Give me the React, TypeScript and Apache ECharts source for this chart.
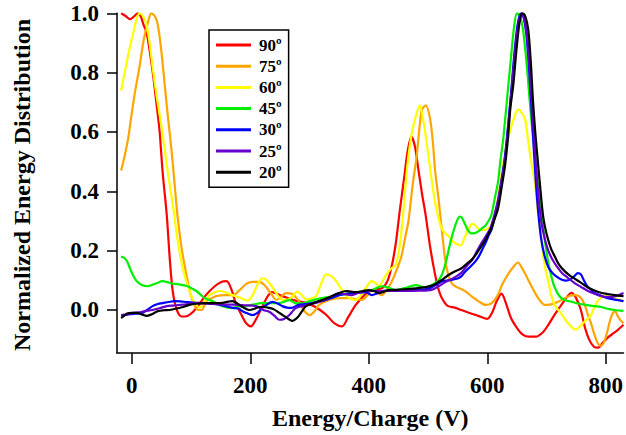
import React, { useEffect, useRef } from "react";
import * as echarts from "echarts";

const seriesNames = ["90º", "75º", "60º", "45º", "30º", "25º", "20º"];
const seriesColors = ["#ff0000", "#ffa500", "#ffff00", "#00ee00", "#0000ff", "#6600cc", "#000000"];
const xTicks = [0, 200, 400, 600, 800];
const yTicks = [0, 0.2, 0.4, 0.6, 0.8, 1.0];

const red90 = [
  [-18, 1.0], [-10, 0.99], [-3, 0.98], [4, 0.99], [10, 1.0], [15, 0.99], [20, 0.96], [25, 0.935], [34, 0.82], [42, 0.69], [47, 0.6],
  [52, 0.465], [59, 0.32], [64, 0.175], [69, 0.064], [76, 0.0], [84, -0.022], [94, -0.02], [104, -0.005], [114, 0.02],
  [125, 0.05], [140, 0.08], [152, 0.095], [160, 0.097], [168, 0.07], [176, 0.02], [186, -0.02], [193, -0.045], [201, -0.055],
  [210, -0.03], [220, 0.01], [229, 0.045], [237, 0.06], [250, 0.05], [266, 0.038], [280, 0.03], [294, 0.024], [310, 0.01],
  [328, -0.016], [342, -0.045], [355, -0.055], [365, -0.025], [378, 0.017], [390, 0.045], [400, 0.063], [412, 0.07],
  [422, 0.073], [432, 0.1], [440, 0.16], [446, 0.23], [452, 0.33], [460, 0.45], [466, 0.54], [472, 0.584], [478, 0.55],
  [484, 0.47], [490, 0.39], [496, 0.32], [503, 0.22], [509, 0.15], [515, 0.09], [521, 0.05], [528, 0.025], [534, 0.013],
  [545, 0.008], [556, 0.0], [570, -0.01], [585, -0.02], [600, -0.03], [608, -0.01], [616, 0.03], [624, 0.055], [632, 0.02],
  [640, -0.027], [650, -0.06], [660, -0.083], [670, -0.09], [682, -0.09], [694, -0.075], [703, -0.05], [714, -0.015],
  [725, 0.017], [735, 0.045], [742, 0.058], [750, 0.04], [758, 0.0], [765, -0.06], [772, -0.1], [780, -0.124], [787, -0.127],
  [795, -0.11], [803, -0.094], [812, -0.08], [820, -0.068], [830, -0.05]
];

const orange75 = [
  [-18, 0.47], [-12, 0.52], [-6, 0.58], [-1, 0.65], [5, 0.73], [13, 0.82], [20, 0.91], [26, 0.96], [33, 1.0], [39, 0.99],
  [44, 0.96], [50, 0.87], [55, 0.77], [61, 0.65], [67, 0.54], [72, 0.43], [77, 0.32], [84, 0.21], [92, 0.12], [99, 0.055],
  [106, 0.015], [112, 0.0], [118, 0.0], [126, 0.03], [135, 0.04], [143, 0.047], [158, 0.05], [170, 0.05], [182, 0.067],
  [193, 0.088], [204, 0.095], [215, 0.095], [225, 0.082], [235, 0.055], [244, 0.034], [252, 0.045], [260, 0.057],
  [270, 0.055], [280, 0.035], [290, 0.0], [300, -0.017], [308, -0.005], [316, 0.017], [333, 0.034], [350, 0.04],
  [366, 0.04], [388, 0.034], [398, 0.05], [405, 0.067], [414, 0.06], [422, 0.05], [430, 0.068], [436, 0.085], [442, 0.11],
  [448, 0.14], [455, 0.18], [462, 0.25], [467, 0.3], [474, 0.42], [481, 0.52], [489, 0.67], [496, 0.69], [503, 0.65],
  [508, 0.57], [512, 0.47], [518, 0.37], [523, 0.275], [529, 0.17], [534, 0.12], [540, 0.09], [546, 0.08], [557, 0.07],
  [565, 0.06], [573, 0.047], [585, 0.03], [597, 0.017], [607, 0.022], [618, 0.05], [625, 0.085], [635, 0.12], [644, 0.145],
  [652, 0.16], [659, 0.14], [666, 0.114], [676, 0.075], [686, 0.04], [697, 0.017], [705, 0.018], [714, 0.023], [722, 0.03],
  [731, 0.04], [740, 0.048], [748, 0.05], [756, 0.045], [764, 0.02], [770, -0.017], [776, -0.05], [781, -0.084],
  [786, -0.11], [790, -0.12], [794, -0.118], [798, -0.104], [803, -0.07], [807, -0.037], [812, -0.01], [816, -0.005],
  [820, -0.02], [825, -0.035], [830, -0.044]
];

const yellow60 = [
  [-18, 0.74], [-12, 0.8], [-5, 0.87], [2, 0.93], [8, 0.98], [13, 1.0], [19, 0.99], [25, 0.96], [30, 0.9], [35, 0.82],
  [42, 0.72], [50, 0.62], [57, 0.52], [64, 0.42], [71, 0.33], [77, 0.24], [85, 0.15], [94, 0.084], [102, 0.04], [109, 0.017],
  [114, 0.008], [122, 0.025], [131, 0.05], [140, 0.06], [148, 0.064], [158, 0.06], [170, 0.05], [184, 0.04], [195, 0.032],
  [204, 0.05], [212, 0.085], [220, 0.107], [228, 0.1], [237, 0.078], [246, 0.05], [254, 0.034], [263, 0.035], [271, 0.045],
  [279, 0.062], [287, 0.05], [294, 0.036], [302, 0.038], [311, 0.047], [320, 0.09], [328, 0.12], [336, 0.115], [344, 0.1],
  [352, 0.075], [361, 0.05], [370, 0.038], [378, 0.034], [387, 0.05], [395, 0.074], [405, 0.097], [412, 0.09], [417, 0.08],
  [424, 0.1], [430, 0.12], [438, 0.14], [445, 0.15], [451, 0.2], [457, 0.3], [462, 0.42], [467, 0.52], [473, 0.6],
  [479, 0.65], [486, 0.69], [492, 0.64], [498, 0.56], [504, 0.47], [509, 0.4], [514, 0.34], [519, 0.3], [523, 0.275],
  [528, 0.26], [534, 0.25], [540, 0.235], [546, 0.225], [555, 0.218], [563, 0.25], [570, 0.28], [576, 0.29], [582, 0.28],
  [588, 0.27], [596, 0.27], [602, 0.275], [608, 0.29], [613, 0.32], [620, 0.4], [626, 0.48], [631, 0.54], [638, 0.6],
  [644, 0.64], [652, 0.675], [658, 0.665], [664, 0.64], [669, 0.57], [674, 0.5], [681, 0.42], [686, 0.32], [691, 0.24],
  [697, 0.15], [703, 0.097], [708, 0.05], [714, 0.017], [724, -0.01], [736, -0.044], [744, -0.06], [750, -0.066],
  [757, -0.055], [765, -0.037], [775, -0.017], [781, 0.01], [787, 0.032], [798, 0.047], [806, 0.046], [815, 0.04],
  [822, 0.035], [830, 0.03]
];

const green45 = [
  [-18, 0.18], [-13, 0.176], [-8, 0.164], [-3, 0.14], [2, 0.117], [8, 0.098], [17, 0.084], [27, 0.08], [35, 0.085],
  [42, 0.09], [52, 0.097], [60, 0.094], [68, 0.089], [77, 0.087], [86, 0.084], [94, 0.08], [102, 0.072], [109, 0.064],
  [116, 0.052], [123, 0.04], [136, 0.03], [153, 0.013], [170, 0.007], [182, 0.012], [193, 0.013], [204, 0.018],
  [220, 0.023], [232, 0.023], [249, 0.023], [260, 0.03], [266, 0.034], [277, 0.022], [288, 0.022], [300, 0.03],
  [320, 0.04], [350, 0.05], [380, 0.06], [405, 0.067], [422, 0.08], [434, 0.075], [445, 0.067], [462, 0.075],
  [479, 0.084], [496, 0.076], [506, 0.084], [515, 0.095], [523, 0.117], [530, 0.16], [538, 0.23], [546, 0.285],
  [551, 0.31], [555, 0.315], [560, 0.3], [567, 0.27], [573, 0.258], [580, 0.26], [585, 0.265], [591, 0.275], [597, 0.285],
  [602, 0.3], [607, 0.32], [612, 0.37], [618, 0.43], [622, 0.5], [627, 0.577], [631, 0.66], [635, 0.745], [640, 0.85],
  [645, 0.95], [650, 1.0], [655, 0.99], [660, 0.95], [665, 0.86], [669, 0.77], [674, 0.65], [678, 0.57], [682, 0.49],
  [687, 0.4], [691, 0.33], [695, 0.27], [699, 0.21], [703, 0.16], [708, 0.115], [713, 0.08], [719, 0.055], [725, 0.04],
  [733, 0.032], [742, 0.028], [753, 0.022], [767, 0.017], [781, 0.013], [792, 0.01], [803, 0.004], [815, 0.0],
  [830, -0.003]
];

const blue30 = [
  [-18, -0.017], [-8, -0.016], [2, -0.013], [10, -0.012], [18, -0.01], [26, 0.0], [35, 0.013], [44, 0.02], [52, 0.023],
  [62, 0.027], [72, 0.03], [82, 0.029], [92, 0.027], [103, 0.025], [114, 0.024], [128, 0.022], [143, 0.02], [157, 0.014],
  [170, 0.007], [180, 0.005], [187, -0.004], [196, -0.012], [204, -0.017], [212, -0.01], [220, 0.007], [228, 0.018],
  [237, 0.027], [246, 0.022], [254, 0.013], [262, 0.008], [269, 0.007], [276, 0.012], [282, 0.017], [293, 0.02],
  [304, 0.023], [316, 0.028], [328, 0.034], [340, 0.042], [350, 0.05], [364, 0.055], [378, 0.057], [395, 0.06],
  [405, 0.05], [414, 0.056], [422, 0.064], [434, 0.066], [445, 0.067], [460, 0.067], [472, 0.067], [484, 0.068],
  [496, 0.07], [506, 0.076], [518, 0.09], [526, 0.098], [534, 0.1], [543, 0.103], [551, 0.107], [557, 0.115], [563, 0.13],
  [571, 0.145], [580, 0.164], [587, 0.185], [593, 0.21], [598, 0.23], [602, 0.25], [607, 0.27], [612, 0.31], [618, 0.36],
  [624, 0.43], [630, 0.52], [636, 0.64], [641, 0.75], [646, 0.87], [651, 0.96], [655, 0.995], [658, 1.0], [662, 0.98],
  [666, 0.93], [670, 0.83], [674, 0.7], [678, 0.56], [682, 0.43], [686, 0.33], [691, 0.24], [697, 0.18], [703, 0.145],
  [710, 0.125], [719, 0.11], [726, 0.102], [733, 0.099], [741, 0.104], [747, 0.114], [753, 0.124], [758, 0.12],
  [763, 0.1], [768, 0.082], [775, 0.068], [781, 0.057], [792, 0.048], [803, 0.04], [815, 0.035], [830, 0.03]
];

const purple25 = [
  [-18, -0.017], [-8, -0.015], [2, -0.01], [12, -0.008], [22, -0.004], [35, 0.0], [47, 0.006], [59, 0.013], [70, 0.015],
  [81, 0.017], [95, 0.02], [109, 0.023], [125, 0.022], [143, 0.02], [158, 0.018], [173, 0.018], [190, 0.016],
  [210, 0.013], [222, 0.0], [232, -0.006], [241, -0.02], [249, -0.033], [257, -0.03], [266, -0.017], [272, -0.003],
  [277, 0.007], [288, 0.013], [299, 0.018], [310, 0.024], [321, 0.03], [335, 0.043], [350, 0.057], [360, 0.053],
  [371, 0.05], [383, 0.058], [395, 0.064], [417, 0.064], [439, 0.064], [462, 0.064], [484, 0.065], [506, 0.068],
  [518, 0.08], [530, 0.095], [545, 0.11], [556, 0.125], [566, 0.15], [575, 0.17], [583, 0.2], [590, 0.225], [598, 0.25],
  [605, 0.275], [612, 0.32], [618, 0.37], [624, 0.44], [630, 0.51], [635, 0.61], [640, 0.72], [645, 0.83], [650, 0.93],
  [654, 0.98], [658, 1.0], [662, 0.985], [666, 0.94], [670, 0.86], [674, 0.74], [678, 0.61], [682, 0.49], [686, 0.39],
  [691, 0.3], [697, 0.24], [703, 0.2], [710, 0.17], [718, 0.145], [726, 0.125], [735, 0.11], [748, 0.09], [758, 0.078],
  [770, 0.064], [781, 0.055], [792, 0.047], [803, 0.044], [815, 0.046], [822, 0.05], [830, 0.057]
];

const black20 = [
  [-18, -0.027], [-13, -0.02], [-8, -0.012], [0, -0.01], [8, -0.01], [17, -0.015], [25, -0.02], [33, -0.015],
  [44, -0.004], [54, -0.001], [64, 0.0], [76, 0.005], [86, 0.01], [97, 0.017], [108, 0.021], [119, 0.023], [136, 0.023],
  [153, 0.024], [163, 0.028], [170, 0.03], [178, 0.022], [187, 0.01], [198, 0.0], [207, 0.004], [215, 0.01], [223, 0.01],
  [232, 0.007], [240, 0.002], [249, -0.01], [260, -0.024], [266, -0.032], [271, -0.037], [277, -0.03], [282, -0.02],
  [288, -0.002], [294, 0.013], [305, 0.022], [316, 0.03], [327, 0.038], [338, 0.047], [350, 0.057], [361, 0.064],
  [370, 0.062], [378, 0.06], [390, 0.064], [400, 0.067], [410, 0.063], [417, 0.057], [426, 0.062], [434, 0.067],
  [448, 0.068], [462, 0.07], [480, 0.073], [496, 0.077], [508, 0.083], [518, 0.095], [526, 0.105], [534, 0.117],
  [545, 0.13], [556, 0.14], [565, 0.155], [573, 0.168], [582, 0.19], [590, 0.215], [598, 0.24], [603, 0.26], [607, 0.275],
  [613, 0.31], [618, 0.34], [624, 0.41], [630, 0.487], [635, 0.58], [639, 0.68], [644, 0.76], [648, 0.85], [652, 0.93],
  [655, 0.975], [659, 1.0], [663, 0.995], [667, 0.97], [670, 0.93], [674, 0.82], [677, 0.71], [681, 0.6], [686, 0.487],
  [690, 0.4], [694, 0.32], [698, 0.275], [703, 0.235], [708, 0.205], [714, 0.18], [722, 0.15], [731, 0.13], [740, 0.115],
  [748, 0.105], [758, 0.092], [770, 0.076], [781, 0.066], [792, 0.058], [803, 0.054], [815, 0.05], [830, 0.047]
];

const seriesData = [red90, orange75, yellow60, green45, blue30, purple25, black20];

const FONT = "'Liberation Serif', 'Times New Roman', serif";

export default function App() {
  const ref = useRef<HTMLDivElement>(null);
  useEffect(() => {
    if (!ref.current) return;
    const chart = echarts.init(ref.current, undefined, { renderer: "svg" });
    const axisText = { fontFamily: FONT, fontWeight: "bold" as const, fontSize: 23, color: "#000" };
    chart.setOption({
      animation: false,
      backgroundColor: "#fff",
      grid: { left: 117, top: 13.3, width: 509, height: 341.7, containLabel: false },
      legend: {
        orient: "vertical",
        left: 209,
        top: 30,
        data: seriesNames,
        icon: "rect",
        itemWidth: 35,
        itemHeight: 3,
        itemGap: 4.2,
        padding: [6.5, 7, 6.5, 7],
        borderColor: "#000",
        borderWidth: 1.5,
        backgroundColor: "#fff",
        textStyle: { fontFamily: FONT, fontWeight: "bold", fontSize: 17, lineHeight: 17, color: "#000", padding: [0, 0, 0, 3] },
      },
      xAxis: {
        type: "value",
        min: -25,
        max: 830,
        name: "Energy/Charge (V)",
        nameLocation: "middle",
        nameGap: 53,
        nameTextStyle: { fontFamily: FONT, fontWeight: "bold", fontSize: 24, color: "#000" },
        axisLine: { show: true, onZero: false, lineStyle: { color: "#000", width: 1.5 } },
        axisTick: { show: true, inside: false, length: 11, lineStyle: { color: "#000", width: 1.5 }, customValues: xTicks },
        axisLabel: { ...axisText, margin: 21, customValues: xTicks, formatter: (v: number) => String(Math.round(v)) },
        splitLine: { show: false },
      },
      yAxis: {
        type: "value",
        min: -0.145,
        max: 1.0,
        axisLine: { show: true, onZero: false, lineStyle: { color: "#000", width: 1.5 } },
        axisTick: { show: true, inside: false, length: 10, lineStyle: { color: "#000", width: 1.5 }, customValues: yTicks },
        axisLabel: { ...axisText, margin: 18, customValues: yTicks, formatter: (v: number) => v.toFixed(1) },
        splitLine: { show: false },
      },
      graphic: [
        {
          type: "text",
          x: 22,
          y: 185,
          rotation: Math.PI / 2,
          style: {
            text: "Normalized Energy Distribution",
            fontFamily: FONT,
            fontWeight: "bold",
            fontSize: 24,
            fill: "#000",
            align: "center",
            verticalAlign: "middle",
          },
        },
      ],
      series: seriesNames.map((name, i) => ({
        name,
        type: "line",
        data: seriesData[i],
        color: seriesColors[i],
        showSymbol: false,
        symbol: "none",
        smooth: 0.3,
        lineStyle: { width: 2.2, color: seriesColors[i] },
      })),
    });
    return () => chart.dispose();
  }, []);
  return <div ref={ref} style={{ width: 626, height: 435, position: "absolute", left: 0, top: 0 }} />;
}
